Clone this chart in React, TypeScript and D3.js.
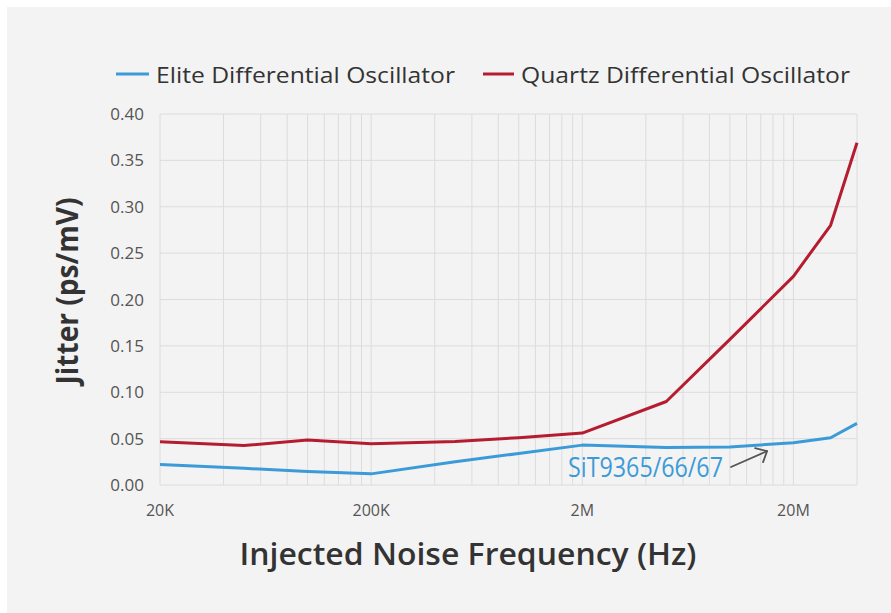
import React from "react";
import * as d3 from "d3";

const freqs = [20e3, 50e3, 100e3, 200e3, 500e3, 1e6, 2e6, 5e6, 10e6, 20e6, 30e6, 40e6];
const eliteJitter = [0.022, 0.018, 0.0145, 0.012, 0.025, 0.034, 0.043, 0.0405, 0.041, 0.0455, 0.051, 0.0665];
const quartzJitter = [0.0465, 0.0425, 0.0485, 0.0445, 0.047, 0.051, 0.056, 0.09, 0.157, 0.225, 0.28, 0.369];
const yTicks = [0, 0.05, 0.1, 0.15, 0.2, 0.25, 0.3, 0.35, 0.4];
const xTickValues = [20e3, 200e3, 2e6, 20e6];
const xTickLabels = ["20K", "200K", "2M", "20M"];
const seriesNames = ["Elite Differential Oscillator", "Quartz Differential Oscillator"];
const annotationText = "SiT9365/66/67";
const annotationFreq = 15e6;

const W = 891;
const H = 613;
const BLUE = "#3b9bd8";
const RED = "#b51c30";
const FONT = "'Open Sans', 'Noto Sans', sans-serif";

export default function App() {
  const x = d3.scaleLog().domain([20e3, 40e6]).range([160, 857]);
  const y = d3.scaleLinear().domain([0, 0.4]).range([485, 114]);

  const grid: number[] = [];
  for (let base = 20e3; base < 40e6; base *= 10) {
    for (let k = 1; k <= 10; k++) {
      const v = base * k;
      if (v <= 40e6 + 1) grid.push(v);
    }
  }
  const gridUnique = Array.from(new Set(grid));

  const line = d3
    .line<[number, number]>()
    .x((d) => x(d[0]))
    .y((d) => y(d[1]));

  const elite = freqs.map((f, i) => [f, eliteJitter[i]] as [number, number]);
  const quartz = freqs.map((f, i) => [f, quartzJitter[i]] as [number, number]);

  const tipX = x(annotationFreq);
  const tipY = y(0.0365);

  return (
    <svg
      width={W}
      height={H}
      style={{ position: "absolute", left: 0, top: 0, display: "block" }}
      fontFamily={FONT}
    >
      <rect x={0} y={0} width={W} height={H} fill="#ffffff" />
      <rect x={7} y={7} width={W - 7} height={H - 7} fill="#f3f3f3" />

      <g stroke="#dcdcdc" strokeWidth={1}>
        {gridUnique.map((v, i) => (
          <line key={"gx" + i} x1={x(v)} x2={x(v)} y1={y(0.4)} y2={y(0)} />
        ))}
        {yTicks.map((v, i) => (
          <line key={"gy" + i} x1={x(20e3)} x2={x(40e6)} y1={y(v)} y2={y(v)} />
        ))}
      </g>

      <g fill="#555555" fontSize={17} textAnchor="end">
        {yTicks.map((v, i) => (
          <text key={"yt" + i} x={144} y={y(v) + 6}>
            {v.toFixed(2)}
          </text>
        ))}
      </g>

      <g fill="#555555" fontSize={16} textAnchor="middle">
        {xTickValues.map((v, i) => (
          <text key={"xt" + i} x={x(v)} y={516}>
            {xTickLabels[i]}
          </text>
        ))}
      </g>

      <path d={line(elite) || ""} fill="none" stroke={BLUE} strokeWidth={3} strokeLinejoin="round" />
      <path d={line(quartz) || ""} fill="none" stroke={RED} strokeWidth={3} strokeLinejoin="round" />

      <text x={568} y={477} fill={BLUE} fontSize={27} textLength={155} lengthAdjust="spacingAndGlyphs">
        {annotationText}
      </text>
      <g stroke="#555555" strokeWidth={1.8} fill="none" strokeLinecap="round" strokeLinejoin="round">
        <line x1={731} y1={467} x2={tipX} y2={tipY} />
        <polyline points={`${tipX - 12},${tipY - 3} ${tipX},${tipY} ${tipX - 4},${tipY + 11}`} />
      </g>

      <line x1={116} x2={149} y1={74} y2={74} stroke={BLUE} strokeWidth={3} />
      <text x={156} y={83} fill="#333333" fontSize={21} textLength={299} lengthAdjust="spacingAndGlyphs">
        {seriesNames[0]}
      </text>
      <line x1={483} x2={514} y1={74} y2={74} stroke={RED} strokeWidth={3} />
      <text x={521} y={83} fill="#333333" fontSize={21} textLength={329} lengthAdjust="spacingAndGlyphs">
        {seriesNames[1]}
      </text>

      <text
        x={468}
        y={565}
        textAnchor="middle"
        fill="#333333"
        fontSize={31}
        fontWeight={600}
        textLength={457}
        lengthAdjust="spacingAndGlyphs"
      >
        Injected Noise Frequency (Hz)
      </text>
      <text
        transform="translate(78,291) rotate(-90)"
        textAnchor="middle"
        fill="#333333"
        fontSize={30}
        fontWeight={700}
        textLength={187}
        lengthAdjust="spacingAndGlyphs"
      >
        Jitter (ps/mV)
      </text>
    </svg>
  );
}
